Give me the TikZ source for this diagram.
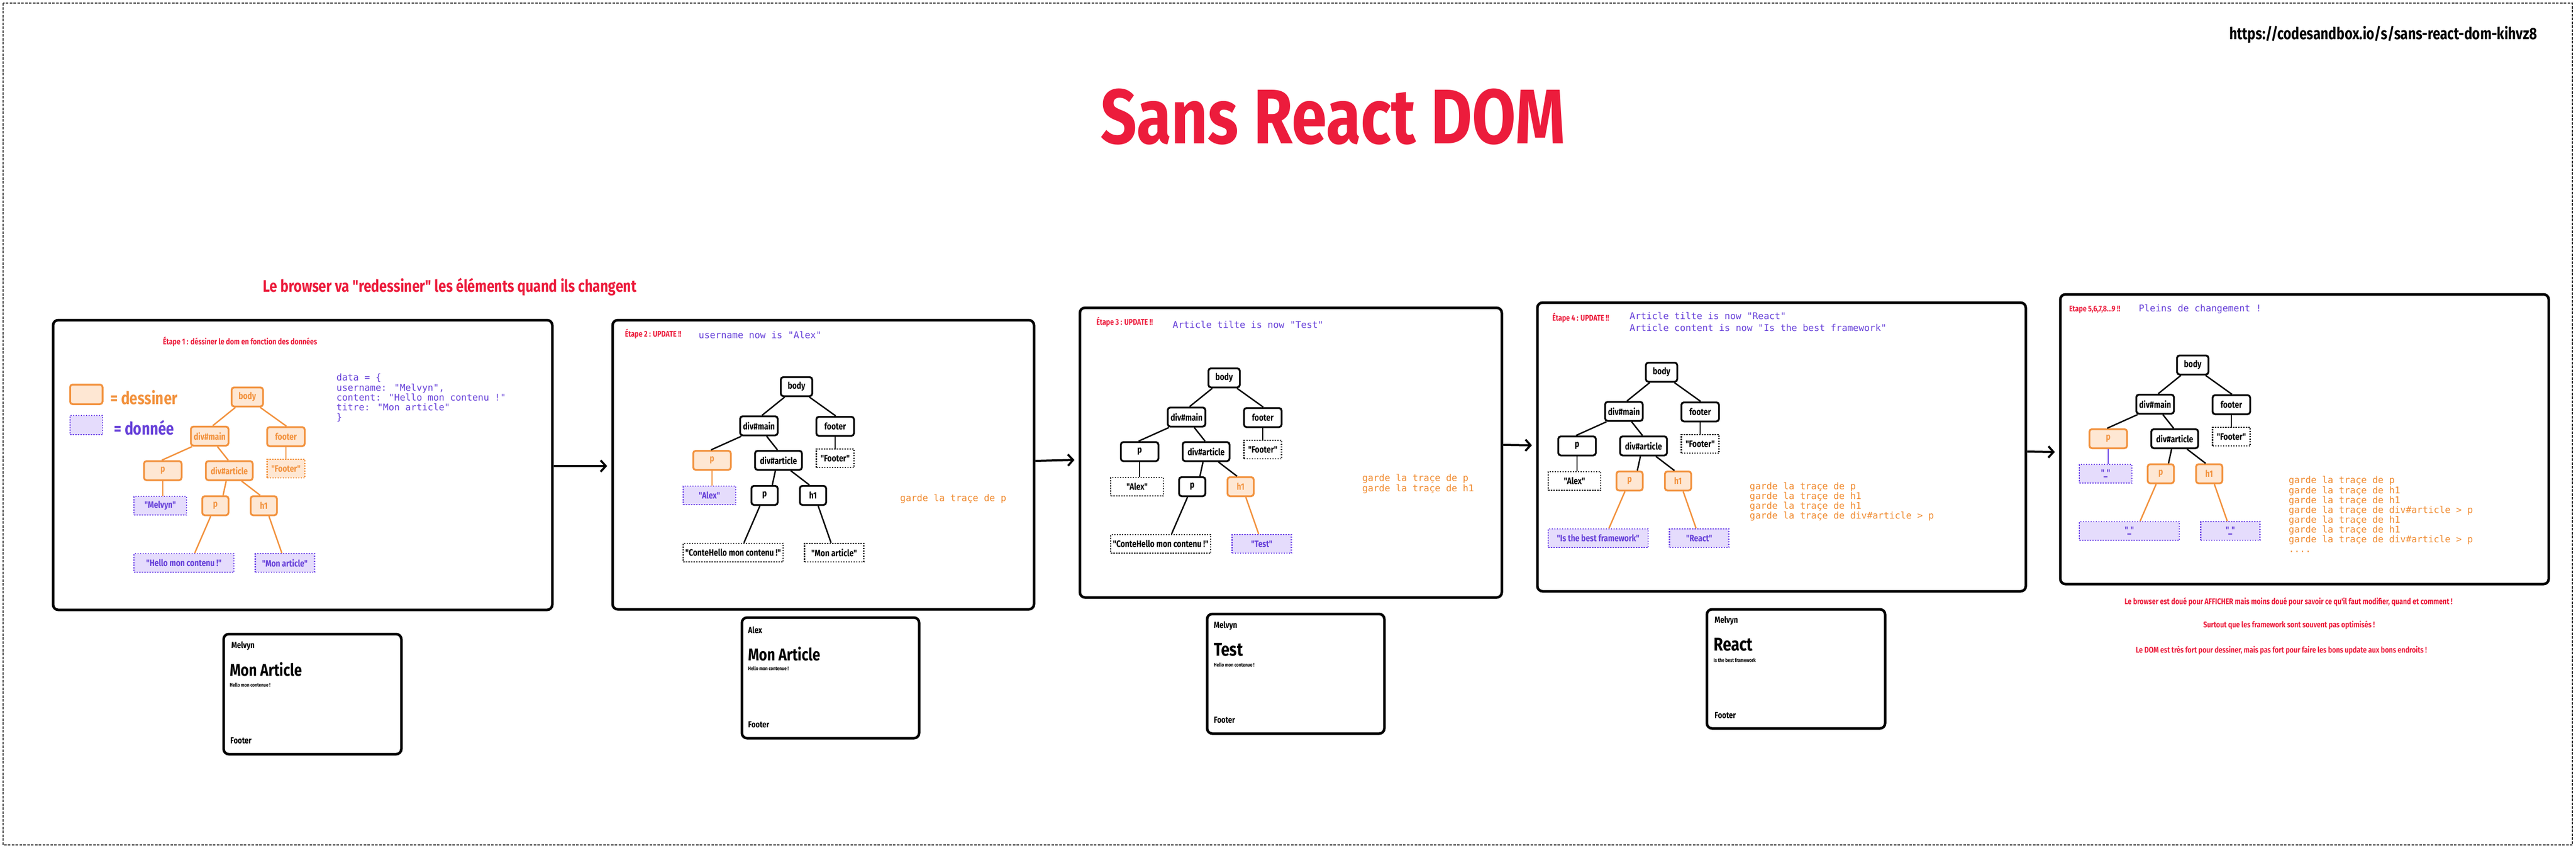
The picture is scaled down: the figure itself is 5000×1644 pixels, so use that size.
\documentclass[tikz,border=0pt]{standalone}
\usepackage{fontspec}
\setmainfont{Fira Sans}
\newfontfamily\hand[FakeStretch=0.82]{Fira Sans}
\newfontfamily\mono{DejaVu Sans Mono}
\usetikzlibrary{arrows.meta}
\definecolor{redT}{RGB}{236,28,60}
\definecolor{orS}{RGB}{242,146,62}
\definecolor{orF}{RGB}{254,231,211}
\definecolor{orT}{RGB}{240,140,50}
\definecolor{puS}{RGB}{112,72,232}
\definecolor{puF}{RGB}{229,220,252}
\definecolor{puT}{RGB}{103,65,217}
\definecolor{frameC}{RGB}{50,50,50}
\newcommand\hfnt[1]{\hand\bfseries\fontsize{#1}{#1}\selectfont}
\newcommand\mfnt[2]{\mono\fontsize{#1}{#2}\selectfont}
\newcommand\domtree[6]{%
 \begin{scope}[shift={(#2,#3)}]
  \node[k-body, minimum width=61pt] (#1body) at (0,0) {body};
  \node[k-main, minimum width=73pt] (#1main) at (-73,76) {div\#main};
  \node[k-foot, minimum width=73pt] (#1foot) at (75,77) {footer};
  \node[k-p, minimum width=73pt] (#1p) at (-164,143) {p};
  \node[k-art, minimum width=91pt] (#1art) at (-35,143) {div\#article};
  \node[k-ft, minimum width=73pt] (#1ft) at (75,139) {"Footer"};
  \node[k-la, minimum width=102pt] (#1la) at (-169,211) {#4};
  \node[k-pp, minimum width=51pt] (#1pp) at (-62,211) {p};
  \node[k-h, minimum width=51pt] (#1h) at (32,211) {h1};
  \node[k-lb, minimum width=194pt] (#1lb) at (-123,322) {#5};
  \node[k-lc, minimum width=115pt] (#1lc) at (73,322) {#6};
 \end{scope}
 \draw[e-bm] ([xshift=-23pt]#1body.south) -- ([xshift=6pt]#1main.north);
 \draw[e-bf] ([xshift=25pt]#1body.south) -- ([xshift=1pt]#1foot.north);
 \draw[e-mp] ([xshift=-34pt]#1main.south) -- ([xshift=-2pt]#1p.north);
 \draw[e-ma] ([xshift=15pt]#1main.south) -- ([xshift=-2pt]#1art.north);
 \draw[e-ff] (#1foot.south) -- (#1ft.north);
 \draw[e-pla] (#1p.south) -- (#1la.north -| #1p.south);
 \draw[e-app] ([xshift=-6pt]#1art.south) -- ([xshift=15pt]#1pp.north);
 \draw[e-ah] ([xshift=24pt]#1art.south) -- ([xshift=-7pt]#1h.north);
 \draw[e-pplb] ([xshift=-9pt]#1pp.south) -- ([xshift=21pt]#1lb.north);
 \draw[e-hlc] ([xshift=10pt]#1h.south) -- ([xshift=-6pt]#1lc.north);
}
\begin{document}
\begin{tikzpicture}[x=1pt, y=-1pt,
  blk/.style={draw=black, line width=3.5pt, rounded corners=5pt, fill=white, text=black, font=\hfnt{18}, minimum height=37pt, inner sep=0pt},
  org/.style={blk, draw=orS, fill=orF, text=orS},
  dblk/.style={draw=black, line width=2.5pt, dash pattern=on 2.5pt off 2.5pt, fill=white, text=black, font=\hfnt{18}, minimum height=36pt, inner sep=0pt},
  dpur/.style={dblk, draw=puS, fill=puF, text=puT},
  dorg/.style={dblk, draw=orS, fill=orF, text=orS},
  eblk/.style={draw=black, line width=2.7pt},
  eorg/.style={draw=orS, line width=2.7pt},
  epur/.style={draw=puS, line width=2.7pt},
  k-body/.style=blk, k-main/.style=blk, k-foot/.style=blk, k-p/.style=blk, k-art/.style=blk,
  k-pp/.style=blk, k-h/.style=blk, k-ft/.style=dblk, k-la/.style=dblk, k-lb/.style=dblk, k-lc/.style=dblk,
  e-bm/.style=eblk, e-bf/.style=eblk, e-mp/.style=eblk, e-ma/.style=eblk, e-ff/.style=eblk,
  e-pla/.style=eblk, e-app/.style=eblk, e-ah/.style=eblk, e-pplb/.style=eblk, e-hlc/.style=eblk,
  panel/.style={draw=black, line width=5pt, rounded corners=10pt, inner sep=0pt, fill=white},
  card/.style={draw=black, line width=5pt, rounded corners=10pt, inner sep=0pt, fill=white},
  txt/.style={inner sep=0pt, anchor=west},
  arr/.style={draw=black, line width=4pt, -{Straight Barb[length=10pt,width=22pt]}, shorten >=8pt}
]
\useasboundingbox (0,0) rectangle (5000,1644);
\fill[white] (0,0) rectangle (5000,1644);
\draw[frameC, line width=2.5pt, dash pattern=on 5pt off 2.5pt] (6,6) rectangle (4993,1639);

% titles
\node[font=\hfnt{150}, text=redT, inner sep=0pt] (title) at (2587,227) {Sans React DOM};
\node[font=\hfnt{32}, inner sep=0pt] (url) at (4626,67) {https://codesandbox.io/s/sans-react-dom-kihvz8};
\node[font=\hfnt{32.5}, text=redT, inner sep=0pt] (sub) at (873,557) {Le browser va "redessiner" les éléments quand ils changent};

% panels
\node[panel, minimum width=969pt, minimum height=562pt] (P1) at (587.5,902) {};
\node[panel, minimum width=818pt, minimum height=561pt] (P2) at (1598,901.5) {};
\node[panel, minimum width=819pt, minimum height=562pt] (P3) at (2505.5,878) {};
\node[panel, minimum width=948pt, minimum height=560pt] (P4) at (3458,867) {};
\node[panel, minimum width=948pt, minimum height=562pt] (P5) at (4473,852) {};

\draw[arr] ([yshift=-2pt]P1.east) -- ([yshift=-2.5pt]P2.west);
\draw[arr] ([yshift=7.5pt]P2.east) -- ([yshift=-14pt]P3.west);
\draw[arr] ([yshift=15pt]P3.east) -- ([yshift=3pt]P4.west);
\draw[arr] ([yshift=-9pt]P4.east) -- ([yshift=-25pt]P5.west);

% panel 1
\node[font=\hfnt{16}, text=redT, inner sep=0pt] (s1) at (466,663) {Étape 1 : déssiner le dom en fonction des données};
\node[org, minimum width=63pt, minimum height=38pt] (legO) at (167.5,765) {};
\node[dpur, minimum width=63pt, minimum height=37pt] (legP) at (167.5,824.5) {};
\node[txt, text=orS, font=\hfnt{34}] (legOt) at (214,771) {= dessiner};
\node[txt, text=puT, font=\hfnt{34}] (legPt) at (221,830) {= donnée};
\node[inner sep=0pt, anchor=north west, text=puT, font=\mfnt{18}{19.2}, align=left] (data) at (653,725) {data = \{\\username: "Melvyn",\\content: "Hello mon contenu !"\\titre: "Mon article"\\\}};
\begin{scope}[k-body/.style=org, k-main/.style=org, k-foot/.style=org, k-p/.style=org, k-art/.style=org,
  k-pp/.style=org, k-h/.style=org, k-ft/.style=dorg, k-la/.style=dpur, k-lb/.style=dpur, k-lc/.style=dpur,
  e-bm/.style=eorg, e-bf/.style=eorg, e-mp/.style=eorg, e-ma/.style=eorg, e-ff/.style=eorg,
  e-pla/.style=eorg, e-app/.style=eorg, e-ah/.style=eorg, e-pplb/.style=eorg, e-hlc/.style=eorg]
\domtree{a}{480}{770}{"Melvyn"}{"Hello mon contenu !"}{"Mon article"}
\end{scope}

% panel 2
\node[txt, text=redT, font=\hfnt{16}] (s2) at (1213,648) {Étape 2 : UPDATE !!};
\node[txt, text=puT, font=\mfnt{18}{18}] (u2) at (1356,650) {username now is "Alex"};
\node[txt, text=orT, font=\mfnt{18}{18}] (g2) at (1747,968) {garde la traçe de p};
\begin{scope}[k-p/.style=org, k-la/.style=dpur, e-pla/.style=eorg]
\domtree{b}{1546}{750}{"Alex"}{"ConteHello mon contenu !"}{"Mon article"}
\end{scope}

% panel 3
\node[txt, text=redT, font=\hfnt{16}] (s3) at (2128,625) {Étape 3 : UPDATE !!};
\node[txt, text=puT, font=\mfnt{18}{18}] (u3) at (2276,630) {Article tilte is now "Test"};
\node[inner sep=0pt, anchor=north west, text=orT, font=\mfnt{18}{19.5}, align=left] (g3) at (2644,920) {garde la traçe de p\\garde la traçe de h1};
\begin{scope}[k-h/.style=org, k-lc/.style=dpur, e-hlc/.style=eorg]
\domtree{c}{2376}{733}{"Alex"}{"ConteHello mon contenu !"}{"Test"}
\end{scope}

% panel 4
\node[txt, text=redT, font=\hfnt{16}] (s4) at (3013,617) {Étape 4 : UPDATE !!};
\node[inner sep=0pt, anchor=north west, text=puT, font=\mfnt{18}{22.9}, align=left] (u4) at (3163,606) {Article tilte is now "React"\\Article content is now "Is the best framework"};
\node[inner sep=0pt, anchor=north west, text=orT, font=\mfnt{18}{19}, align=left] (g4) at (3396,936) {garde la traçe de p\\garde la traçe de h1\\garde la traçe de h1\\garde la traçe de div\#article > p};
\begin{scope}[k-pp/.style=org, k-h/.style=org, k-lb/.style=dpur, k-lc/.style=dpur, e-pplb/.style=eorg, e-hlc/.style=eorg]
\domtree{d}{3225}{722}{"Alex"}{"Is the best framework"}{"React"}
\end{scope}

% panel 5
\node[txt, text=redT, font=\hfnt{16}] (s5) at (4016,601) {Etape 5,6,7,8...9 !!};
\node[txt, text=puT, font=\mfnt{18}{18}] (u5) at (4151,600) {Pleins de changement !};
\node[inner sep=0pt, anchor=north west, text=orT, font=\mfnt{18}{19.1}, align=left] (g5) at (4442,924) {garde la traçe de p\\garde la traçe de h1\\garde la traçe de h1\\garde la traçe de div\#article > p\\garde la traçe de h1\\garde la traçe de h1\\garde la traçe de div\#article > p\\....};
\begin{scope}[k-p/.style=org, k-pp/.style=org, k-h/.style=org, k-la/.style=dpur, k-lb/.style=dpur, k-lc/.style=dpur,
  e-pla/.style=epur, e-pplb/.style=eorg, e-hlc/.style=eorg]
\domtree{e}{4256}{708}{"\_"}{"\_"}{"\_"}
\end{scope}

\node[font=\hfnt{16}, text=redT, inner sep=0pt] (r1) at (4442,1168) {Le browser est doué pour AFFICHER mais moins doué pour savoir ce qu'il faut modifier, quand et comment !};
\node[font=\hfnt{16}, text=redT, inner sep=0pt] (r2) at (4443,1213) {Surtout que les framework sont souvent pas optimisés !};
\node[font=\hfnt{16}, text=redT, inner sep=0pt] (r3) at (4428,1262) {Le DOM est très fort pour dessiner, mais pas fort pour faire les bons update aux bons endroits !};

% cards
\node[card, minimum width=345pt, minimum height=233pt] (c1) at (606.5,1346.5) {};
\node[txt, font=\hfnt{17}] (c1a) at (449,1253) {Melvyn};
\node[txt, font=\hfnt{33}] (c1b) at (446,1298) {Mon Article};
\node[txt, font=\hfnt{10}] (c1c) at (446,1329) {Hello mon contenue !};
\node[txt, font=\hfnt{17}] (c1d) at (447,1437) {Footer};

\node[card, minimum width=344pt, minimum height=234pt] (c2) at (1612,1315) {};
\node[txt, font=\hfnt{17}] (c2a) at (1452,1222) {Alex};
\node[txt, font=\hfnt{33}] (c2b) at (1452,1268) {Mon Article};
\node[txt, font=\hfnt{10}] (c2c) at (1452,1297) {Hello mon contenue !};
\node[txt, font=\hfnt{17}] (c2d) at (1452,1406) {Footer};

\node[card, minimum width=344pt, minimum height=232pt] (c3) at (2515,1307) {};
\node[txt, font=\hfnt{17}] (c3a) at (2356,1214) {Melvyn};
\node[txt, font=\hfnt{36}] (c3b) at (2356,1260) {Test};
\node[txt, font=\hfnt{10}] (c3c) at (2356,1290) {Hello mon contenue !};
\node[txt, font=\hfnt{17}] (c3d) at (2356,1397) {Footer};

\node[card, minimum width=346pt, minimum height=231pt] (c4) at (3486,1297.5) {};
\node[txt, font=\hfnt{17}] (c4a) at (3328,1204) {Melvyn};
\node[txt, font=\hfnt{36}] (c4b) at (3326,1250) {React};
\node[txt, font=\hfnt{10}] (c4c) at (3326,1281) {Is the best framework};
\node[txt, font=\hfnt{17}] (c4d) at (3328,1388) {Footer};
\end{tikzpicture}
\end{document}
